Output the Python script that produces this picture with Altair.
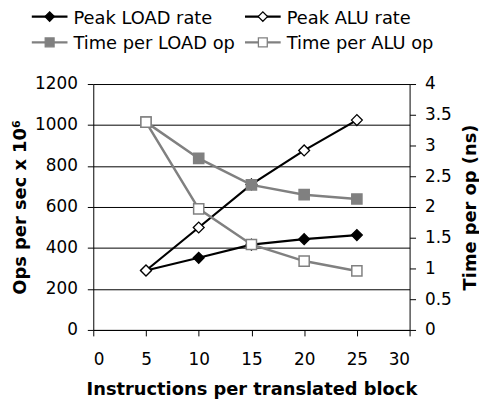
import altair as alt
import pandas as pd

x_vals = [5, 10, 15, 20, 25]
peak_load = [290, 352, 416, 443, 463]
peak_alu = [290, 500, 710, 876, 1024]
time_load = [3.38, 2.79, 2.36, 2.20, 2.13]
time_alu = [3.38, 1.97, 1.39, 1.12, 0.96]

peak_names = ["Peak LOAD rate", "Peak ALU rate"]
time_names = ["Time per LOAD op", "Time per ALU op"]

FONT = "DejaVu Sans"
GRAY = "#808080"
FS = 17
TFS = 18

peak_df = pd.DataFrame({
    "x": x_vals * 2,
    "v": peak_load + peak_alu,
    "series": [peak_names[0]] * 5 + [peak_names[1]] * 5,
})
time_df = pd.DataFrame({
    "x": x_vals * 2,
    "v": time_load + time_alu,
    "series": [time_names[0]] * 5 + [time_names[1]] * 5,
})

xenc = alt.X("x:Q", scale=alt.Scale(domain=[0, 30], nice=False),
             axis=alt.Axis(values=[0, 5, 10, 15, 20, 25, 30], grid=False, format="d",
                           title="Instructions per translated block",
                           tickSize=6, labelPadding=16, titlePadding=13))

left_y = alt.Y("v:Q", scale=alt.Scale(domain=[0, 1200], nice=False),
               axis=alt.Axis(orient="left", values=[0, 200, 400, 600, 800, 1000, 1200],
                             format="d",
                             grid=True, gridColor="#000000", gridWidth=1, gridOpacity=1,
                             title="Ops per sec x 10⁶", tickSize=6, labelPadding=10,
                             titlePadding=5))
right_y = alt.Y("v:Q", scale=alt.Scale(domain=[0, 4], nice=False),
                axis=alt.Axis(orient="right", values=[0, 0.5, 1, 1.5, 2, 2.5, 3, 3.5, 4],
                              format="~g",
                              grid=False, title="Time per op (ns)", titleAngle=270,
                              titleBaseline="top",
                              tickSize=6, labelPadding=9, titlePadding=10))

peak_base = alt.Chart(peak_df)
peak_line = peak_base.mark_line(strokeWidth=2.2).encode(
    x=xenc, y=left_y,
    color=alt.Color("series:N", scale=alt.Scale(domain=peak_names, range=["#000000", "#000000"]), legend=None),
)
peak_pts = peak_base.mark_point(shape="diamond", size=120, strokeWidth=1.3, opacity=1).encode(
    x=xenc, y=left_y,
    fill=alt.Fill("series:N", scale=alt.Scale(domain=peak_names, range=["#000000", "#ffffff"]), legend=None),
    stroke=alt.value("#000000"),
)
left = alt.layer(peak_line, peak_pts)

time_base = alt.Chart(time_df)
time_line = time_base.mark_line(strokeWidth=2.5).encode(
    x=xenc, y=right_y,
    color=alt.Color("series:N", scale=alt.Scale(domain=time_names, range=[GRAY, GRAY]), legend=None),
)
time_pts = time_base.mark_point(shape="square", size=105, strokeWidth=1.5, opacity=1).encode(
    x=xenc, y=right_y,
    fill=alt.Fill("series:N", scale=alt.Scale(domain=time_names, range=[GRAY, "#ffffff"]), legend=None),
    stroke=alt.value(GRAY),
)
right = alt.layer(time_line, time_pts)

# manual legend
legend_entries = [
    (peak_names[0], "diamond", "#000000", "#000000", 2.2, -62, -68),
    (peak_names[1], "diamond", "#ffffff", "#000000", 2.2, 153, -68),
    (time_names[0], "square", GRAY, GRAY, 2.5, -62, -42),
    (time_names[1], "square", "#ffffff", GRAY, 2.5, 153, -42),
]
one = alt.Data(values=[{}])
legend_layers = []
for label, shape, fill, stroke, sw, lx, ly in legend_entries:
    legend_layers.append(alt.Chart(one).mark_rule(color=stroke, strokeWidth=sw).encode(
        x=alt.value(lx), x2=alt.value(lx + 36), y=alt.value(ly)))
    legend_layers.append(alt.Chart(one).mark_point(shape=shape, size=90 if shape == "diamond" else 80,
                                                   fill=fill, stroke=stroke, strokeWidth=1.3,
                                                   opacity=1, filled=False).encode(
        x=alt.value(lx + 18), y=alt.value(ly)))
    legend_layers.append(alt.Chart(one).mark_text(align="left", baseline="alphabetic", font=FONT,
                                                  fontSize=TFS, color="#000000").encode(
        x=alt.value(lx + 42), y=alt.value(ly + 7), text=alt.value(label)))

chart = alt.layer(left, right, *legend_layers).resolve_scale(
    y="independent", color="independent", fill="independent"
).properties(
    width=319, height=248,
    autosize=alt.AutoSizeParams(type="none"),
    padding={"left": 86, "top": 75, "right": 70, "bottom": 70},
).configure_view(stroke=None).configure_axis(
    labelFont=FONT, titleFont=FONT, labelFontSize=FS, titleFontSize=TFS,
    titleFontWeight="bold", labelColor="#000000", titleColor="#000000",
    domainColor="#000000", tickColor="#000000", domainWidth=1, tickWidth=1,
)

chart.save("out.html", embed_options={"renderer": "svg", "actions": False})
